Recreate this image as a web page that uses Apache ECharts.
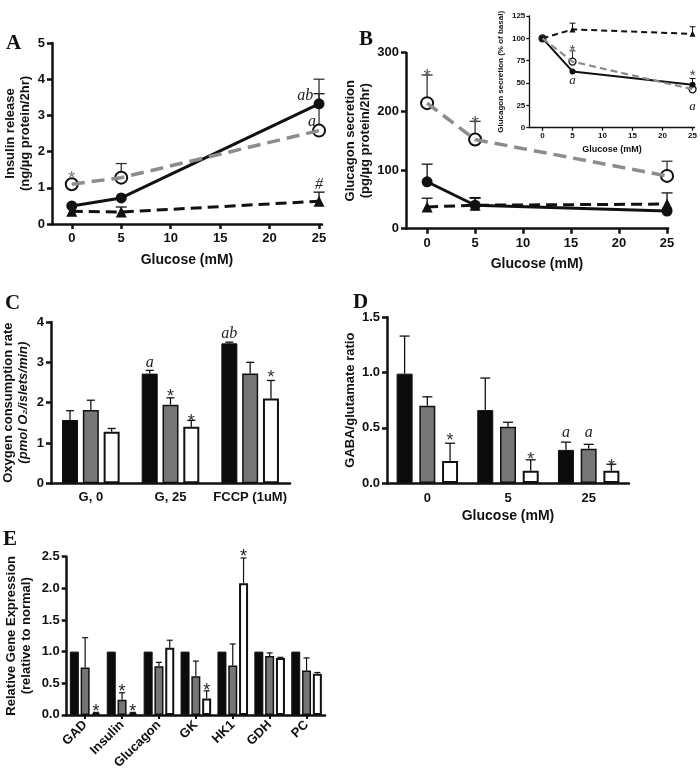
<!DOCTYPE html>
<html><head><meta charset="utf-8">
<script src="https://cdn.jsdelivr.net/npm/echarts@6/dist/echarts.min.js"></script>
<style>html,body{margin:0;padding:0;background:#fff}#c{width:700px;height:772px}</style>
</head><body><div id="c"></div>
<script>
// ---------------- DATA ----------------
const glucose = [0, 5, 25];
const glucoseTicks = [0, 5, 10, 15, 20, 25];

// Panel A: insulin release (ng/ug protein/2hr)
const aSolid = [0.50, 0.72, 3.32];       const aSolidErr = [null, null, 3.60];
const aGrayOpen = [1.10, 1.28, 2.58];    const aGrayOpenErr = [null, 1.67, 4.00];
const aTriangle = [0.35, 0.33, 0.63];    const aTriangleErr = [null, 0.47, 0.88];
const annA = [[0, 1.40, '*'], [23.6, 3.50, 'ab'], [24.3, 2.80, 'a'], [25, 1.05, '#']];

// Panel B: glucagon secretion (pg/ug protein/2hr)
const bSolid = [80, 40, 30];             const bSolidErr = [110, 52, null];
const bGrayOpen = [214, 152, 90];        const bGrayOpenErr = [262, 183, 115];
const bTriangle = [37, 40, 42];          const bTriangleErr = [52, 53, 61];
const annB = [[0, 268, '*'], [5, 188, '*']];

// Panel B inset: glucagon secretion (% of basal)
const iSolid = [100, 63, 48];            const iSolidErr = [null, null, 55];
const iGrayOpen = [100, 74, 43];         const iGrayOpenErr = [null, 86, null];
const iTriangle = [100, 110, 105];       const iTriangleErr = [null, 117, 113];
const annI = [[5, 91, '*'], [5, 52, 'a'], [25, 63, '*'], [25, 23, 'a']];

// Panel C: oxygen consumption rate
const catsC = ['G, 0', 'G, 25', 'FCCP (1uM)'];
const cBlack = [1.57, 2.72, 3.47];  const cBlackErr = [1.80, 2.80, 3.50];
const cGray  = [1.82, 1.95, 2.72];  const cGrayErr  = [2.06, 2.12, 3.00];
const cWhite = [1.28, 1.40, 2.10];  const cWhiteErr = [1.36, 1.56, 2.55];
const annC = [[1, 0, 2.95, 'a'], [2, 0, 3.67, 'ab'], [1, 1, 2.27, '*'], [1, 2, 1.64, '*'], [2, 2, 2.73, '*']];

// Panel D: GABA/glutamate ratio
const catsD = ['0', '5', '25'];
const dBlack = [0.99, 0.66, 0.30];  const dBlackErr = [1.33, 0.95, 0.37];
const dGray  = [0.70, 0.51, 0.31];  const dGrayErr  = [0.78, 0.55, 0.35];
const dWhite = [0.20, 0.11, 0.11];  const dWhiteErr = [0.36, 0.21, 0.17];
const annD = [[0, 2, 0.42, '*'], [1, 2, 0.25, '*'], [2, 2, 0.19, '*'], [2, 0, 0.44, 'a'], [2, 1, 0.44, 'a']];

// Panel E: relative gene expression
const catsE = ['GAD', 'Insulin', 'Glucagon', 'GK', 'HK1', 'GDH', 'PC'];
const eBlack = [1, 1, 1, 1, 1, 1, 1];
const eGray  = [0.75, 0.24, 0.77, 0.61, 0.78, 0.93, 0.70];
const eGrayErr  = [1.22, 0.35, 0.83, 0.85, 1.12, 0.98, 0.90];
const eWhite = [0.03, 0.03, 1.06, 0.26, 2.08, 0.90, 0.65];
const eWhiteErr = [0.04, 0.04, 1.18, 0.38, 2.48, 0.91, 0.67];
const annE = [[0, 2, 0.12, '*'], [1, 1, 0.44, '*'], [1, 2, 0.12, '*'], [3, 2, 0.46, '*'], [4, 2, 2.57, '*']];

// ---------------- STYLE ----------------
const FONT = '"Liberation Sans", Arial, Helvetica, sans-serif';
const SERIF = '"Liberation Serif", "Times New Roman", serif';
const INK = '#111';
const GRAY = '#8c8c8c';
const BARGRAY = '#767676';

const grids = [
  {left: 52, top: 43, width: 270, height: 181},       // 0 A
  {left: 406, top: 52.7, width: 262, height: 176},    // 1 B
  {left: 529.3, top: 16, width: 167.7, height: 111.7},// 2 inset
  {left: 50, top: 322, width: 240, height: 161.3},    // 3 C
  {left: 387, top: 317.3, width: 242, height: 165.7}, // 4 D
  {left: 66.7, top: 556.7, width: 258.3, height: 160} // 5 E
];

function yAx(g, min, max, interval, name, nameGap, o = {}) {
  const lw = o.lw || 2.5;
  return {
    type: 'value', gridIndex: g, min, max, interval,
    name, nameLocation: 'middle', nameGap, nameRotate: 90,
    nameTextStyle: {fontFamily: FONT, fontWeight: 'bold', fontSize: o.nfs || 13, color: INK,
      lineHeight: o.nlh || 15, rich: o.rich},
    axisLine: {show: true, onZero: false, lineStyle: {color: INK, width: lw}},
    axisTick: {show: true, length: o.tl || 5, lineStyle: {color: INK, width: lw}},
    axisLabel: {fontFamily: FONT, fontWeight: 'bold', fontSize: o.fs || 13, color: INK,
      margin: o.lm || 7, formatter: o.fmt},
    splitLine: {show: false}
  };
}
function xValAx(g, min, max, name, nameGap, o = {}) {
  const lw = o.lw || 2.5;
  return {
    type: 'value', gridIndex: g, min, max,
    name, nameLocation: 'middle', nameGap,
    nameTextStyle: {fontFamily: FONT, fontWeight: 'bold', fontSize: o.nfs || 14, color: INK},
    axisLine: {show: true, onZero: false, lineStyle: {color: INK, width: lw}},
    axisTick: {show: true, length: o.tl || 5, customValues: glucoseTicks, lineStyle: {color: INK, width: lw}},
    axisLabel: {customValues: glucoseTicks, fontFamily: FONT, fontWeight: 'bold', fontSize: o.fs || 13,
      color: INK, margin: o.lm || 8},
    splitLine: {show: false}
  };
}
function xCatAx(g, cats, name, nameGap, o = {}) {
  return {
    type: 'category', gridIndex: g, data: cats,
    name, nameLocation: 'middle', nameGap,
    nameTextStyle: {fontFamily: FONT, fontWeight: 'bold', fontSize: 14, color: INK},
    axisLine: {show: true, onZero: false, lineStyle: {color: INK, width: 2.5}},
    axisTick: {show: !!o.ticks, alignWithLabel: true, length: 4, lineStyle: {color: INK, width: 2}},
    axisLabel: {interval: 0, rotate: o.rot || 0, fontFamily: FONT, fontWeight: 'bold', fontSize: 13,
      color: INK, margin: o.lm || 8},
    splitLine: {show: false}
  };
}

function lineS(g, ys, kind, small) {
  const data = glucose.map((x, i) => [x, ys[i]]);
  const base = {type: 'line', xAxisIndex: g, yAxisIndex: g, data, z: 4, animation: false, showSymbol: true};
  if (kind === 'solid') return [Object.assign({}, base, {symbol: 'circle', symbolSize: small ? 6 : 11,
    itemStyle: {color: INK}, lineStyle: {color: INK, width: small ? 2 : 3}})];
  if (kind === 'tri') return [Object.assign({}, base, {symbol: 'triangle', symbolSize: small ? 6 : 11,
    itemStyle: {color: INK}, lineStyle: {color: INK, width: small ? 2 : 3, type: small ? [6, 4] : [11, 6]}})];
  // gray dashed, open circle; dashes drawn over the circles
  const dash = small ? [7, 4] : [13, 7];
  return [
    Object.assign({}, base, {symbol: 'circle', symbolSize: small ? 7 : 12,
      itemStyle: {color: '#fff', borderColor: INK, borderWidth: small ? 1.3 : 2},
      lineStyle: {width: 0, opacity: 0}}),
    Object.assign({}, base, {z: 5, showSymbol: false, symbol: 'none',
      lineStyle: {color: GRAY, width: small ? 2.2 : 3.5, type: dash}})
  ];
}

function errS(g, xs, vals, his, offset, cap, color, lw) {
  const data = [];
  xs.forEach((x, i) => { if (his[i] != null) data.push([x, vals[i], his[i]]); });
  return {
    type: 'custom', xAxisIndex: g, yAxisIndex: g, data, z: 2, animation: false, silent: true,
    renderItem(params, api) {
      const p0 = api.coord([api.value(0), api.value(1)]);
      const p1 = api.coord([api.value(0), api.value(2)]);
      const cx = p0[0] + offset;
      return {type: 'group', children: [
        {type: 'line', shape: {x1: cx, y1: p0[1], x2: cx, y2: p1[1]}, style: {stroke: color, lineWidth: lw}},
        {type: 'line', shape: {x1: cx - cap / 2, y1: p1[1], x2: cx + cap / 2, y2: p1[1]}, style: {stroke: color, lineWidth: lw}}
      ]};
    }
  };
}

function annS(g, items, getX, getOff, sizes) {
  const data = items.map(it => [getX(it), it[it.length - 2]]);
  return {
    type: 'custom', xAxisIndex: g, yAxisIndex: g, data, z: 6, animation: false, silent: true,
    renderItem(params, api) {
      const it = items[params.dataIndex];
      const txt = it[it.length - 1];
      const p = api.coord([api.value(0), api.value(1)]);
      const star = txt === '*';
      const fs = star ? sizes.star : sizes.txt;
      return {type: 'text', x: p[0] + getOff(it), y: p[1] + (star ? fs * 0.27 : -fs * 0.08),
        style: {text: txt, fill: star ? (sizes.starColor || '#333') : '#222', align: 'center', verticalAlign: 'middle',
          font: star ? `${fs}px ${FONT}` : `italic ${fs}px ${SERIF}`}};
    }
  };
}

// bar layout helper: offset of bar k (0..2) from band centre
function barOff(bw, gap) { const s = bw * (1 + gap); return k => (k - 1) * s; }
function barS(g, vals, kind, bw, gap) {
  const st = {
    black: {color: '#0b0b0b', borderColor: INK, borderWidth: 1},
    gray: {color: BARGRAY, borderColor: INK, borderWidth: 1.5},
    white: {color: '#fff', borderColor: INK, borderWidth: 2}
  }[kind];
  return {type: 'bar', xAxisIndex: g, yAxisIndex: g, data: vals, barWidth: bw, barGap: (gap * 100) + '%',
    itemStyle: st, z: 3, animation: false};
}

const series = [];
// A
series.push(errS(0, glucose, aSolid, aSolidErr, 0, 11, INK, 1.3));
series.push(errS(0, glucose, aGrayOpen, aGrayOpenErr, 0, 11, '#333', 1.3));
series.push(errS(0, glucose, aTriangle, aTriangleErr, 0, 11, INK, 1.3));
series.push(...lineS(0, aGrayOpen, 'gray'));
series.push(...lineS(0, aTriangle, 'tri'));
series.push(...lineS(0, aSolid, 'solid'));
series.push(annS(0, annA, it => it[0], () => 0, {star: 19, txt: 16, starColor: '#777'}));
// B
series.push(errS(1, glucose, bSolid, bSolidErr, 0, 11, INK, 1.3));
series.push(errS(1, glucose, bGrayOpen, bGrayOpenErr, 0, 11, '#333', 1.3));
series.push(errS(1, glucose, bTriangle, bTriangleErr, 0, 11, INK, 1.3));
series.push(...lineS(1, bGrayOpen, 'gray'));
series.push(...lineS(1, bTriangle, 'tri'));
series.push(...lineS(1, bSolid, 'solid'));
series.push(annS(1, annB, it => it[0], () => 0, {star: 19, txt: 16, starColor: '#555'}));
// Inset
series.push(errS(2, glucose, iSolid, iSolidErr, 0, 6, INK, 1));
series.push(errS(2, glucose, iGrayOpen, iGrayOpenErr, 0, 6, '#333', 1));
series.push(errS(2, glucose, iTriangle, iTriangleErr, 0, 6, INK, 1));
series.push(...lineS(2, iGrayOpen, 'gray', true));
series.push(...lineS(2, iTriangle, 'tri', true));
series.push(...lineS(2, iSolid, 'solid', true));
series.push(annS(2, annI, it => it[0], () => 0, {star: 15, txt: 13, starColor: '#444'}));
// C
const offC = barOff(16, 0.3);
series.push(barS(3, cBlack, 'black', 16, 0.3), barS(3, cGray, 'gray', 16, 0.3), barS(3, cWhite, 'white', 16, 0.3));
[[cBlack, cBlackErr], [cGray, cGrayErr], [cWhite, cWhiteErr]].forEach((p, k) =>
  series.push(errS(3, [0, 1, 2], p[0], p[1], offC(k), 8, INK, 1.3)));
series.push(annS(3, annC, it => it[0], it => offC(it[1]), {star: 18, txt: 16, starColor: '#333'}));
// D
const offD = barOff(16, 0.42);
series.push(barS(4, dBlack, 'black', 16, 0.42), barS(4, dGray, 'gray', 16, 0.42), barS(4, dWhite, 'white', 16, 0.42));
[[dBlack, dBlackErr], [dGray, dGrayErr], [dWhite, dWhiteErr]].forEach((p, k) =>
  series.push(errS(4, [0, 1, 2], p[0], p[1], offD(k), 10, INK, 1.3)));
series.push(annS(4, annD, it => it[0], it => offD(it[1]), {star: 18, txt: 16, starColor: '#333'}));
// E
const offE = barOff(9, 0.2);
const idxE = catsE.map((c, i) => i);
series.push(barS(5, eBlack, 'black', 9, 0.2), barS(5, eGray, 'gray', 9, 0.2), barS(5, eWhite, 'white', 9, 0.2));
[[eGray, eGrayErr], [eWhite, eWhiteErr]].forEach((p, k) =>
  series.push(errS(5, idxE, p[0], p[1], offE(k + 1), 6, INK, 1.2)));
series.push(annS(5, annE, it => it[0], it => offE(it[1]), {star: 18, txt: 16, starColor: '#222'}));

const fmt1 = v => v.toFixed(1);
const option = {
  animation: false,
  backgroundColor: '#fff',
  grid: grids,
  xAxis: [
    xValAx(0, -2, 25.3, 'Glucose (mM)', 29),
    xValAx(1, -2.2, 25.1, 'Glucose (mM)', 28),
    xValAx(2, -2.2, 25.33, 'Glucose (mM)', 17, {lw: 1.3, tl: 3, fs: 8, nfs: 9, lm: 4}),
    xCatAx(3, catsC, '', 0),
    xCatAx(4, catsD, 'Glucose (mM)', 26, {lm: 9}),
    xCatAx(5, catsE, '', 0, {ticks: true, rot: 45, lm: 8})
  ],
  yAxis: [
    yAx(0, 0, 5, 1, 'Insulin release\n(ng/µg protein/2hr)', 19),
    yAx(1, 0, 300, 100, 'Glucagon secretion\n(pg/µg protein/2hr)', 32),
    yAx(2, 0, 125, 25, 'Glucagon secretion (% of basal)', 16, {lw: 1.3, tl: 3, fs: 8, nfs: 8, lm: 4}),
    yAx(3, 0, 4, 1, '{a|Oxygen consumption rate}\n{b|(pmol O₂/islets/min)}', 20, {
      rich: {a: {fontFamily: FONT, fontWeight: 'bold', fontSize: 13, color: INK, lineHeight: 15},
             b: {fontFamily: FONT, fontWeight: 'bold', fontStyle: 'italic', fontSize: 13, color: INK, lineHeight: 15}}}),
    yAx(4, 0, 1.5, 0.5, 'GABA/glutamate ratio', 27, {fmt: fmt1}),
    yAx(5, 0, 2.5, 0.5, 'Relative Gene Expression\n(relative to normal)', 33, {fmt: fmt1})
  ],
  graphic: [
    ['A', 6, 33], ['B', 359, 29], ['C', 5, 293], ['D', 353, 292], ['E', 3, 529]
  ].map(([t, x, y]) => ({type: 'text', left: x, top: y,
    style: {text: t, font: `bold 21px ${SERIF}`, fill: INK}})),
  series
};
const chart = echarts.init(document.getElementById('c'), null, {renderer: 'canvas'});
chart.setOption(option);
</script>
</body></html>
